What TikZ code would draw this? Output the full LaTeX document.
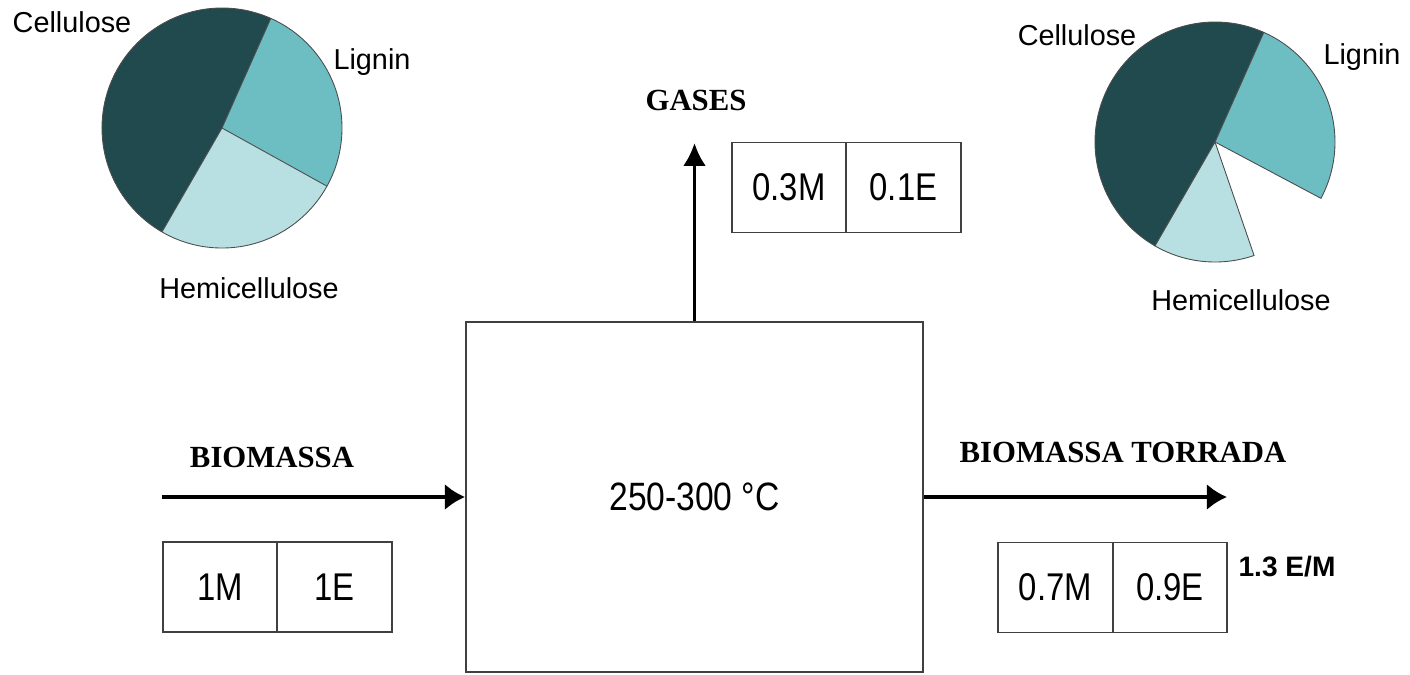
\documentclass[tikz,border=0pt]{standalone}
\usepackage{fontspec}
\setmainfont{Liberation Sans}
\newfontfamily\streamfont{Liberation Serif}
\newfontfamily\valuefont[FakeStretch=0.85]{Liberation Sans}
\usetikzlibrary{arrows.meta,positioning}
\definecolor{celldark}{HTML}{214A4F}
\definecolor{ligninteal}{HTML}{6DBEC3}
\definecolor{hemilight}{HTML}{B8E0E2}

\begin{document}
\begin{tikzpicture}[
  x=0.02cm,
  y=-0.02cm,
  >=Latex,
  reactor/.style={
    draw=black!75,
    line width=1.1pt,
    minimum width=9.14cm,
    minimum height=7.0cm,
    inner sep=0pt,
    font=\valuefont\fontsize{22.5}{26}\selectfont
  },
  cell/.style={
    draw=black!75,
    line width=1pt,
    minimum width=2.29cm,
    minimum height=1.8cm,
    inner sep=0pt,
    outer sep=0pt,
    font=\valuefont\fontsize{22}{25}\selectfont
  },
  streamlabel/.style={font=\streamfont\bfseries\fontsize{17.5}{20}\selectfont},
  ratiolabel/.style={font=\bfseries\fontsize{16}{19}\selectfont},
  pielabel/.style={font=\fontsize{16.4}{19}\selectfont},
  slice/.style={draw=black!70, line width=0.5pt},
  flow/.style={->, line width=2pt, >={Latex[length=11.5pt,width=15pt]}},
  gasflow/.style={->, line width=2pt, >={Latex[length=13pt,width=13pt]}}
]
  \useasboundingbox (0,0) rectangle (1410,674);

  % reactor and streams
  \node[reactor] (reactor) at (694.5,497) {250-300 °C};

  \coordinate (feedin) at (162,497);
  \coordinate (gasout) at (694.5,143);
  \coordinate (torrout) at (1227,497);

  \draw[flow] (feedin) -- (reactor.west);
  \draw[gasflow] (reactor.north) -- (gasout);
  \draw[flow] (reactor.east) -- (torrout);

  \node[streamlabel] (feedlbl) at (272,457) {BIOMASSA};
  \node[streamlabel] (gaslbl) at (696,100) {GASES};
  \node[streamlabel] (torrlbl) at (1123,452) {BIOMASSA TORRADA};

  % mass / energy boxes
  \node[cell] (feedm) at (220,587) {1M};
  \node[cell, right=0pt of feedm] (feede) {1E};

  \node[cell] (gasm) at (789,187.5) {0.3M};
  \node[cell, right=0pt of gasm] (gase) {0.1E};

  \node[cell] (torrm) at (1055.5,587.5) {0.7M};
  \node[cell, right=0pt of torrm] (torre) {0.9E};

  \node[ratiolabel] (ratiolbl) at (1287,567) {1.3 E/M};

  % raw biomass composition
  \begin{scope}[shift={(222,128)}, y=0.02cm]
    \fill[celldark] (0,0) -- (66:120) arc[start angle=66, end angle=240, radius=120] -- cycle;
    \fill[ligninteal] (0,0) -- (-29:120) arc[start angle=-29, end angle=66, radius=120] -- cycle;
    \fill[hemilight] (0,0) -- (240:120) arc[start angle=240, end angle=331, radius=120] -- cycle;
    \draw[slice] (0,0) circle[radius=120];
    \draw[slice] (66:120) -- (0,0) -- (240:120);
    \draw[slice] (0,0) -- (-29:120);
  \end{scope}
  \node[pielabel] (cellraw) at (72,22) {Cellulose};
  \node[pielabel] (ligraw) at (372,62) {Lignin};
  \node[pielabel] (hemiraw) at (249,288) {Hemicellulose};

  % torrefied biomass composition
  \begin{scope}[shift={(1215,142)}, y=0.02cm]
    \filldraw[slice, fill=celldark] (0,0) -- (66:120) arc[start angle=66, end angle=240, radius=120] -- cycle;
    \filldraw[slice, fill=ligninteal] (0,0) -- (-28:120) arc[start angle=-28, end angle=66, radius=120] -- cycle;
    \filldraw[slice, fill=hemilight] (0,0) -- (240:120) arc[start angle=240, end angle=289, radius=120] -- cycle;
  \end{scope}
  \node[pielabel] (celltorr) at (1077,35) {Cellulose};
  \node[pielabel] (ligtorr) at (1362,57) {Lignin};
  \node[pielabel] (hemitorr) at (1241,300) {Hemicellulose};
\end{tikzpicture}
\end{document}
